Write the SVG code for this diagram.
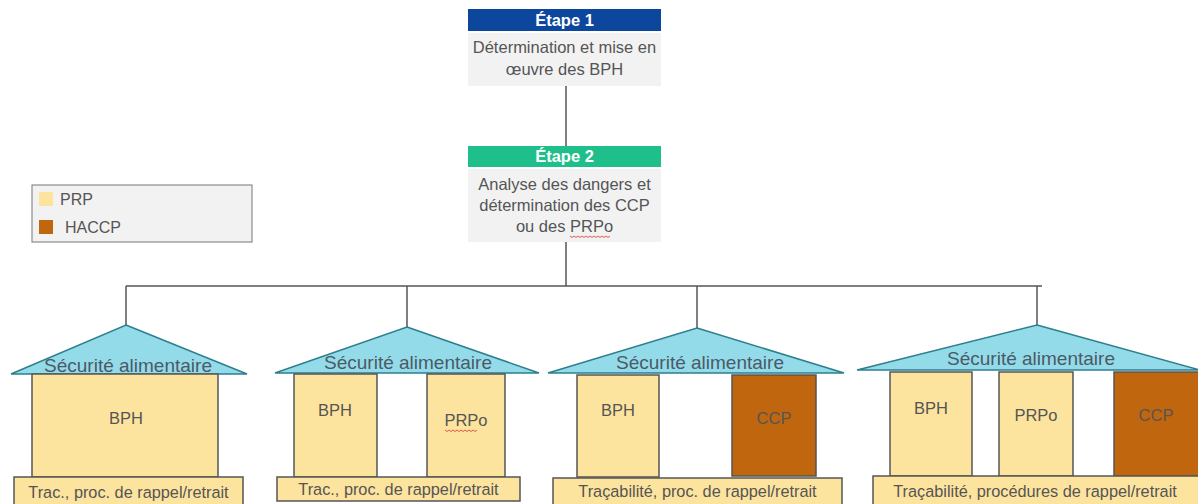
<svg xmlns="http://www.w3.org/2000/svg" width="1198" height="504" viewBox="0 0 1198 504">
<style>
text{font-family:"Liberation Sans",Arial,sans-serif;fill:#555}
.hdr{font-weight:bold;fill:#fff;font-size:16.5px}
.body{font-size:16.5px}
.leg{font-size:16px}
.roof{fill:#94dbea;stroke:#2d7f8e;stroke-width:1.5}
.rooft{font-size:19px;fill:#4a5a66}
.prp{fill:#fde49e;stroke:#555;stroke-width:1.5}
.ccp{fill:#c0660f;stroke:#555;stroke-width:1.5}
.pt{font-size:16.5px}
.bt{font-size:16.3px}
.line{stroke:#555;stroke-width:1.5;fill:none}
.squig{stroke:#d33;stroke-width:0.8;fill:none}
</style>
<rect width="1198" height="504" fill="#fff"/>
<g id="connectors">
<line class="line" x1="566" y1="86" x2="566" y2="146"/>
<line class="line" x1="566" y1="242" x2="566" y2="286"/>
<line class="line" x1="126" y1="286" x2="1042" y2="286"/>
<line class="line" x1="126" y1="286" x2="126" y2="325"/>
<line class="line" x1="407" y1="286" x2="407" y2="327"/>
<line class="line" x1="697" y1="286" x2="697" y2="328"/>
<line class="line" x1="1037" y1="286" x2="1037" y2="325"/>
</g>
<g id="etape1">
<rect x="468" y="9" width="193" height="22" fill="#0c479d"/>
<text class="hdr" x="564.5" y="26" text-anchor="middle">Étape 1</text>
<rect x="468" y="33" width="193" height="53" fill="#f2f2f2"/>
<text class="body" x="564.5" y="53" text-anchor="middle">Détermination et mise en</text>
<text class="body" x="564.5" y="75" text-anchor="middle">œuvre des BPH</text>
</g>
<g id="etape2">
<rect x="468" y="146" width="193" height="21" fill="#1fbf8c"/>
<text class="hdr" x="564.5" y="162" text-anchor="middle">Étape 2</text>
<rect x="468" y="169" width="193" height="73" fill="#f2f2f2"/>
<text class="body" x="564.5" y="190" text-anchor="middle">Analyse des dangers et</text>
<text class="body" x="564.5" y="211" text-anchor="middle">détermination des CCP</text>
<text class="body" x="564.5" y="232" text-anchor="middle">ou des PRPo</text>
<path class="squig" d="M570 236 l2 1.5 l2 -1.5 l2 1.5 l2 -1.5 l2 1.5 l2 -1.5 l2 1.5 l2 -1.5 l2 1.5 l2 -1.5 l2 1.5 l2 -1.5 l2 1.5 l2 -1.5 l2 1.5 l2 -1.5 l2 1.5 l2 -1.5 l2 1.5 l2 -1.5"/>
</g>
<g id="legend">
<rect x="32" y="185" width="220" height="57" fill="#f2f2f2" stroke="#777" stroke-width="1"/>
<rect x="39" y="192" width="14" height="14" fill="#fde49e"/>
<text class="leg" x="60" y="205">PRP</text>
<rect x="39" y="220" width="14" height="14" fill="#c0660f"/>
<text class="leg" x="65" y="233">HACCP</text>
</g>
<g id="house1">
<polygon class="roof" points="126,325 247,374 11,374"/>
<text class="rooft" x="128" y="372" text-anchor="middle">Sécurité alimentaire</text>
<rect class="prp" x="32" y="374" width="186" height="103"/>
<text class="pt" x="126" y="424" text-anchor="middle">BPH</text>
<rect class="prp" x="14" y="477" width="229" height="30"/>
<text class="bt" x="128.5" y="498" text-anchor="middle">Trac., proc. de rappel/retrait</text>
</g>
<g id="house2">
<polygon class="roof" points="407,327 539,373 275,373"/>
<text class="rooft" x="408" y="369" text-anchor="middle">Sécurité alimentaire</text>
<rect class="prp" x="294" y="374" width="83" height="103"/>
<text class="pt" x="335" y="416" text-anchor="middle">BPH</text>
<rect class="prp" x="427" y="374" width="78" height="103"/>
<text class="pt" x="466" y="426" text-anchor="middle">PRPo</text>
<path class="squig" d="M445 430 l2 1.5 l2 -1.5 l2 1.5 l2 -1.5 l2 1.5 l2 -1.5 l2 1.5 l2 -1.5 l2 1.5 l2 -1.5 l2 1.5 l2 -1.5 l2 1.5 l2 -1.5 l2 1.5 l2 -1.5"/>
<rect class="prp" x="277" y="477" width="243" height="24"/>
<text class="bt" x="398.5" y="495" text-anchor="middle">Trac., proc. de rappel/retrait</text>
</g>
<g id="house3">
<polygon class="roof" points="697,328 844,373 548,373"/>
<text class="rooft" x="700" y="369" text-anchor="middle">Sécurité alimentaire</text>
<rect class="prp" x="577" y="375" width="82" height="102"/>
<text class="pt" x="618" y="416" text-anchor="middle">BPH</text>
<rect class="ccp" x="732" y="375" width="84" height="101"/>
<text class="pt" x="774" y="424" text-anchor="middle">CCP</text>
<rect class="prp" x="553" y="478" width="289" height="30"/>
<text class="bt" x="697.5" y="497" text-anchor="middle">Traçabilité, proc. de rappel/retrait</text>
</g>
<g id="house4">
<polygon class="roof" points="1037,325 1200,370 857,370"/>
<text class="rooft" x="1031" y="365" text-anchor="middle">Sécurité alimentaire</text>
<rect class="prp" x="890" y="372" width="82" height="104"/>
<text class="pt" x="931" y="414" text-anchor="middle">BPH</text>
<rect class="prp" x="999" y="372" width="74" height="104"/>
<text class="pt" x="1036" y="421" text-anchor="middle">PRPo</text>
<rect class="ccp" x="1114" y="372" width="90" height="104"/>
<text class="pt" x="1156" y="421" text-anchor="middle">CCP</text>
<rect class="prp" x="873" y="476" width="330" height="32"/>
<text class="bt" x="1035" y="497" text-anchor="middle">Traçabilité, procédures de rappel/retrait</text>
</g>
</svg>
